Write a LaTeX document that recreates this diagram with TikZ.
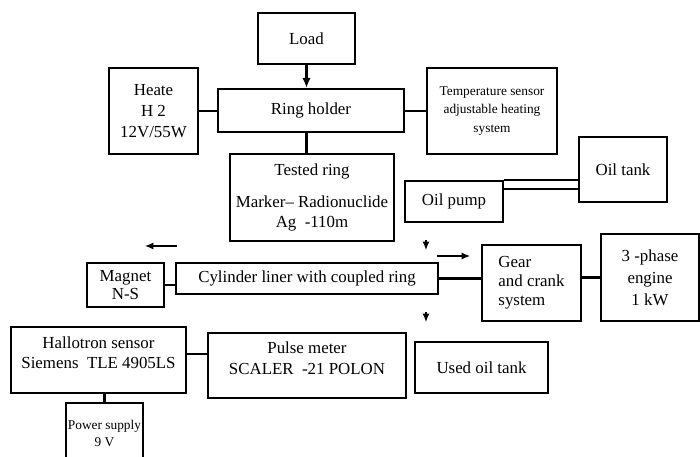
\documentclass[tikz,border=0pt]{standalone}
\usepackage{fontspec}
\setmainfont{Liberation Serif}
\usetikzlibrary{arrows.meta,calc}
\tikzset{
  blk/.style={draw,line width=1.7pt,align=center,inner sep=1pt,font=\fontsize{12}{14}\selectfont},
  small/.style={font=\fontsize{9.5}{13}\selectfont},
  link/.style={line width=1.7pt},
  dir/.style={line width=0.8pt,-{Latex[length=6pt,width=5pt]}},
}
\begin{document}
\begin{tikzpicture}[x=0.025cm,y=-0.025cm]
  \useasboundingbox (0,0) rectangle (700,457);
  \clip (0,0) rectangle (700,457);
  % top part
  \node[blk,minimum width=2.425cm,minimum height=1.275cm] (load) at (306.5,38.5) {Load};
  \node[blk,minimum width=2.225cm,minimum height=2.15cm,font=\fontsize{12}{15}\selectfont] (heater) at (153.5,111) {Heate\\H 2\\12V/55W};
  \node[blk,minimum width=4.65cm,minimum height=1.075cm] (holder) at (311,110.5) {Ring holder};
  \node[blk,small,minimum width=3.25cm,minimum height=2.15cm] (temp) at (492,111) {Temperature sensor\\ adjustable heating\\system};
  \node[blk,minimum width=4.1cm,minimum height=2.175cm] (tested) at (312,197.5) {Tested ring\\[9pt]Marker-- Radionuclide\\Ag \ -110m};
  \node[blk,minimum width=2.45cm,minimum height=1.025cm] (pump) at (454,201.5) {Oil pump};
  \node[blk,minimum width=2.2cm,minimum height=1.625cm] (oiltank) at (623,169.5) {Oil tank};
  % middle part
  \node[blk,minimum width=1.925cm,minimum height=1.1cm,font=\fontsize{12}{13}\selectfont] (magnet) at (125.5,285) {Magnet\\N-S};
  \node[blk,minimum width=6.55cm,minimum height=0.775cm] (liner) at (307,278.5) {Cylinder liner with coupled ring};
  \node[blk,align=left,minimum width=2.475cm,minimum height=1.9cm,font=\fontsize{12}{13.5}\selectfont] (gear) at (531.5,283) {Gear\\and crank\\system};
  \node[blk,minimum width=2.45cm,minimum height=2.175cm,font=\fontsize{12}{15.5}\selectfont] (engine) at (650,277.5) {3 -phase\\engine\\1 kW};
  % bottom part
  \node[blk,minimum width=4.375cm,minimum height=1.65cm] (hallo) at (98.5,360) {Hallotron sensor\\Siemens \ TLE 4905LS\\[-4pt]};
  \node[blk,minimum width=4.95cm,minimum height=1.625cm,font=\fontsize{12}{15}\selectfont] (pulse) at (307,365.5) {Pulse meter\\SCALER \ -21 POLON\\[-4pt]};
  \node[blk,minimum width=3.325cm,minimum height=1.275cm] (used) at (481.5,367.5) {Used oil tank};
  \node[blk,minimum width=1.925cm,minimum height=1.75cm,font=\fontsize{9.5}{12}\selectfont] (power) at (104.5,438) {Power supply\\9 V\\[-6pt]};
  % free arrows
  \coordinate (mleftA) at (177,246);
  \coordinate (mleftB) at (145,246);
  \coordinate (mrightA) at (437,256);
  \coordinate (mrightB) at (470,256);
  \coordinate (oilA) at (426,240);
  \coordinate (oilB) at (426,250);
  \coordinate (outA) at (426,312);
  \coordinate (outB) at (426,322);
  % connectors
  \draw[link,-{Latex[length=7pt,width=6pt]}] (load.south) -- (load.south |- holder.north);
  \draw[link] (heater.east) -- (heater.east -| holder.west);
  \draw[link] (temp.west) -- (temp.west -| holder.east);
  \draw[link] (load.south |- holder.south) -- (load.south |- tested.north);
  \draw[link] (pump.north east) -- (pump.north east -| oiltank.west);
  \draw[link] ($(pump.north east)+(0,9)$) -- ($(pump.north east -| oiltank.west)+(0,9)$);
  \draw[link] (magnet.east) -- (magnet.east -| liner.west);
  \draw[link] (liner.east) -- (liner.east -| gear.west);
  \draw[link] (engine.west -| gear.east) -- (engine.west);
  \draw[link] ($(hallo.east)+(0,-6)$) -- ($(hallo.east -| pulse.west)+(0,-6)$);
  \draw[link] (power.north) -- (power.north |- hallo.south);
  \draw[dir] (mleftA) -- (mleftB);
  \draw[dir] (mrightA) -- (mrightB);
  \draw[dir] (oilA) -- (oilB);
  \draw[dir] (outA) -- (outB);
\end{tikzpicture}
\end{document}
